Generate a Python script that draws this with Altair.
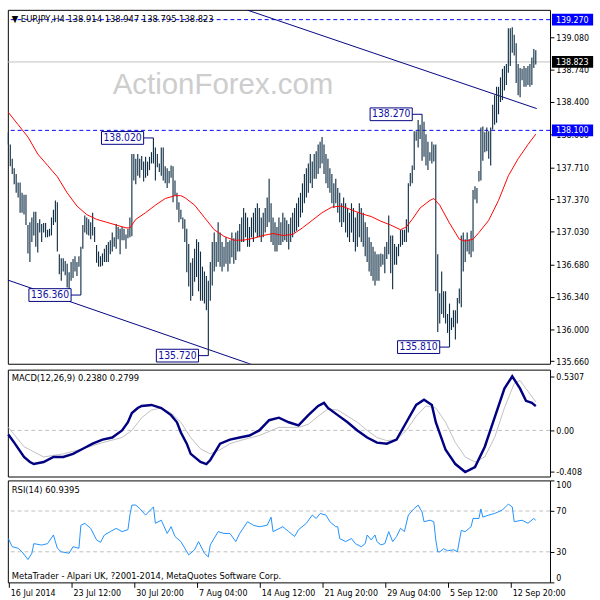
import altair as alt
import pandas as pd

FONT = "DejaVu Sans Condensed, DejaVu Sans, sans-serif"

TITLE = "\u25bc EURJPY,H4  138.914 138.947 138.795 138.823"
MACD_TITLE = "MACD(12,26,9) 0.2380 0.2799"
RSI_TITLE = "RSI(14) 60.9395"
FOOTER = "MetaTrader - Alpari UK, ?2001-2014, MetaQuotes Software Corp."
WATERMARK = "ActionForex.com"

# ---- H4 bars (high / low), one per 4-hour bar ----
HIGH = [
    138.08, 137.95, 137.80, 137.70, 137.64, 137.55, 137.55, 137.44, 137.42, 137.42,
    137.10, 137.13, 137.18, 137.24, 137.24, 137.12, 137.16, 137.11, 137.12, 137.12,
    137.05, 137.06, 137.18, 137.26, 137.36, 137.34, 136.79, 136.75, 136.75, 136.72,
    136.69, 136.60, 136.71, 136.74, 136.77, 136.71, 136.77, 136.87, 137.10, 137.20,
    137.18, 137.16, 137.13, 137.23, 137.08, 136.89, 136.82, 136.77, 136.80, 136.85,
    136.89, 136.92, 136.94, 137.02, 136.97, 137.11, 137.08, 137.06, 137.08, 137.06,
    137.00, 137.06, 137.18, 137.85, 137.85, 137.80, 137.85, 137.80, 137.83, 137.77,
    137.82, 137.77, 137.82, 137.87, 138.02, 137.92, 137.85, 137.75, 137.92, 137.92,
    137.72, 137.70, 137.67, 137.73, 137.72, 137.57, 137.44, 137.34, 137.26, 137.18,
    137.16, 137.06, 136.90, 136.70, 136.75, 136.85, 136.95, 136.92, 136.82, 136.66,
    136.61, 136.56, 136.51, 136.71, 136.92, 137.02, 136.92, 137.13, 137.02, 136.92,
    136.87, 136.97, 136.92, 136.94, 137.02, 136.96, 137.02, 137.04, 137.11, 137.18,
    137.28, 137.23, 137.18, 137.08, 137.18, 137.23, 137.28, 137.33, 137.28, 137.18,
    137.23, 137.28, 137.39, 137.59, 137.33, 137.18, 137.13, 137.08, 137.18, 137.13,
    137.23, 137.18, 137.15, 137.11, 137.18, 137.23, 137.28, 137.33, 137.39, 137.44,
    137.54, 137.64, 137.70, 137.75, 137.85, 137.77, 137.85, 137.88, 137.95, 137.98,
    138.03, 137.95, 137.85, 137.80, 137.70, 137.64, 137.54, 137.59, 137.49, 137.44,
    137.33, 137.39, 137.33, 137.28, 137.23, 137.33, 137.28, 137.18, 137.23, 137.33,
    137.28, 137.23, 137.13, 137.08, 136.97, 136.92, 136.87, 136.82, 136.79, 136.79,
    136.80, 136.79, 136.87, 136.92, 137.20, 136.99, 136.99, 136.90, 136.87, 136.90,
    137.05, 137.05, 137.05, 137.16, 137.54, 137.65, 137.73, 138.09, 138.09, 138.21,
    138.16, 138.27, 138.19, 138.06, 137.98, 137.87, 137.98, 137.95, 137.95, 136.79,
    136.38, 136.61, 136.40, 136.40, 136.16, 136.27, 136.12, 136.20, 136.20, 136.33,
    136.43, 136.99, 137.02, 136.95, 137.02, 136.95, 137.04, 137.47, 137.51, 137.49,
    137.67, 138.13, 138.14, 138.08, 138.13, 138.09, 138.13, 138.37, 138.47, 138.56,
    138.56, 138.66, 138.75, 138.78, 138.80, 139.18, 139.18, 139.19, 139.11, 139.02,
    138.80, 138.76, 138.75, 138.78, 138.76, 138.78, 138.80, 138.87, 138.96, 138.947,
]
LOW = [
    137.95, 137.72, 137.64, 137.53, 137.44, 137.39, 137.23, 137.23, 137.21, 137.10,
    136.80, 136.71, 136.92, 136.99, 136.87, 136.81, 137.02, 136.92, 137.02, 136.97,
    136.97, 136.98, 136.99, 137.10, 137.13, 136.82, 136.58, 136.51, 136.61, 136.57,
    136.44, 136.40, 136.51, 136.54, 136.61, 136.56, 136.66, 136.36, 136.85, 137.02,
    137.00, 136.99, 136.95, 136.99, 136.92, 136.70, 136.66, 136.66, 136.67, 136.71,
    136.71, 136.71, 136.79, 136.82, 136.87, 136.85, 136.95, 136.79, 136.94, 136.94,
    136.85, 136.96, 136.97, 136.98, 137.57, 137.53, 137.62, 137.60, 137.68, 137.56,
    137.60, 137.62, 137.68, 137.75, 137.75, 137.57, 137.71, 137.66, 137.62, 137.57,
    137.54, 137.49, 137.54, 137.60, 137.34, 137.41, 137.26, 137.13, 137.16, 137.06,
    136.92, 136.60, 136.45, 136.30, 136.35, 136.50, 136.55, 136.40, 136.30, 136.30,
    136.27, 136.20, 135.72, 136.30, 136.46, 136.61, 136.66, 136.71, 136.66, 136.61,
    136.66, 136.69, 136.61, 136.69, 136.76, 136.69, 136.73, 136.82, 136.82, 136.92,
    136.92, 136.97, 136.87, 136.87, 136.97, 136.92, 137.02, 136.97, 136.97, 136.92,
    136.97, 137.02, 137.08, 137.13, 136.92, 136.89, 136.82, 136.82, 136.89, 136.89,
    136.92, 136.94, 136.92, 136.84, 136.92, 136.97, 137.02, 137.04, 137.08, 137.18,
    137.23, 137.33, 137.39, 137.44, 137.54, 137.49, 137.59, 137.59, 137.64, 137.70,
    137.75, 137.64, 137.54, 137.49, 137.44, 137.33, 137.28, 137.33, 137.23, 137.13,
    137.08, 137.13, 137.02, 136.97, 136.92, 137.02, 136.92, 136.82, 136.87, 136.97,
    136.92, 136.87, 136.77, 136.71, 136.61, 136.56, 136.51, 136.46, 136.51, 136.51,
    136.66, 136.68, 136.59, 136.74, 136.79, 136.59, 136.42, 136.68, 136.68, 136.77,
    136.87, 136.89, 136.92, 136.92, 137.02, 137.51, 137.54, 137.68, 137.99, 137.92,
    138.01, 137.78, 137.82, 137.73, 137.68, 137.78, 137.75, 137.77, 136.40, 135.97,
    136.06, 136.16, 136.12, 136.06, 135.96, 135.81, 135.99, 136.02, 135.89, 136.06,
    136.27, 136.23, 136.61, 136.71, 136.82, 136.79, 136.76, 136.82, 137.37, 137.33,
    137.56, 137.57, 137.78, 137.87, 137.88, 137.80, 137.73, 138.11, 138.16, 138.18,
    138.27, 138.40, 138.42, 138.52, 138.58, 138.71, 138.78, 138.92, 138.89, 138.60,
    138.47, 138.45, 138.63, 138.56, 138.56, 138.58, 138.56, 138.58, 138.76, 138.795,
]

# ---- red moving average ----
MA_K = [0, 5, 10, 15, 20, 25, 30, 35, 40, 45, 50, 55, 60, 62, 65, 70, 75, 80, 85, 88,
        90, 95, 100, 105, 110, 115, 120, 125, 130, 135, 140, 145, 150, 155, 160, 165, 170, 175, 180, 185,
        190, 195, 200, 203, 206, 210, 215, 217, 220, 225, 230, 233, 237, 240, 245, 250, 255, 260, 265, 269]
MA_V = [138.29, 138.16, 138.03, 137.85, 137.73, 137.61, 137.44, 137.30, 137.21, 137.16,
        137.13, 137.10, 137.07, 137.07, 137.16, 137.23, 137.31, 137.38, 137.41, 137.41,
        137.39, 137.31, 137.18, 137.05, 136.98, 136.94, 136.94, 136.96, 136.99, 137.01,
        136.99, 137.00, 137.07, 137.15, 137.23, 137.29, 137.30, 137.26, 137.22, 137.19,
        137.14, 137.10, 137.05, 137.08, 137.16, 137.28, 137.36, 137.38, 137.31, 137.12,
        136.95, 136.93, 136.95, 137.02, 137.15, 137.36, 137.62, 137.80, 137.95, 138.06]

# ---- MACD main / signal ----
MACD_K = [0, 3, 8, 11, 13, 18, 23, 28, 33, 38, 43, 48, 53, 58, 61, 63, 66, 68, 73, 78,
          83, 86, 88, 91, 93, 98, 101, 103, 108, 113, 118, 123, 128, 133, 138, 143, 148, 153, 158, 161,
          163, 168, 173, 178, 183, 188, 193, 198, 203, 208, 212, 216, 218, 223, 228, 233, 238, 243, 248, 253,
          257, 261, 264, 267, 269]
MACD_V = [-0.04, -0.12, -0.26, -0.31, -0.33, -0.31, -0.26, -0.26, -0.23, -0.18,
          -0.13, -0.09, -0.07, 0.00, 0.08, 0.17, 0.22, 0.24, 0.25, 0.22,
          0.15, 0.08, -0.02, -0.13, -0.23, -0.31, -0.33, -0.29, -0.13, -0.09,
          -0.07, -0.05, 0.00, 0.10, 0.125, 0.08, 0.05, 0.15, 0.24, 0.27,
          0.22, 0.15, 0.08, 0.00, -0.07, -0.12, -0.13, -0.09, 0.08, 0.25,
          0.30, 0.25, 0.08, -0.19, -0.33, -0.408, -0.36, -0.16, 0.125, 0.41,
          0.5307, 0.41, 0.29, 0.27, 0.238]
SIG_K = [0, 8, 18, 28, 38, 48, 58, 63, 68, 73, 78, 83, 88, 93, 98, 103, 108, 113, 118, 128,
         138, 148, 153, 158, 163, 168, 173, 178, 183, 188, 193, 198, 203, 208, 213, 218, 223, 228, 233, 238,
         243, 248, 253, 258, 261, 264, 269]
SIG_V = [0.03, -0.16, -0.26, -0.23, -0.18, -0.12, -0.07, 0.00, 0.125, 0.20,
         0.22, 0.17, 0.08, -0.07, -0.18, -0.23, -0.19, -0.13, -0.10, -0.05,
         0.03, 0.03, 0.06, 0.14, 0.21, 0.20, 0.14, 0.08, 0.00, -0.07,
         -0.10, -0.09, 0.00, 0.14, 0.24, 0.22, 0.08, -0.12, -0.26, -0.31,
         -0.26, -0.07, 0.22, 0.46, 0.49, 0.41, 0.2799]

# ---- RSI(14) ----
RSI_K = [0, 2, 5, 7, 10, 12, 13, 17, 20, 23, 25, 27, 31, 33, 36, 37, 39, 42, 45, 47,
         49, 52, 55, 58, 61, 62, 63, 65, 67, 70, 74, 75, 78, 81, 83, 85, 88, 92, 95, 97,
         100, 102, 103, 107, 110, 113, 116, 118, 122, 125, 128, 132, 134, 135, 140, 143, 146, 148, 152, 155,
         157, 159, 162, 164, 167, 168, 169, 172, 175, 177, 180, 182, 183, 185, 187, 188, 190, 192, 194, 196,
         198, 200, 202, 204, 207, 209, 211, 212, 215, 217, 218, 219, 220, 222, 224, 227, 229, 231, 233, 236,
         237, 240, 241, 242, 245, 248, 252, 255, 257, 258, 262, 265, 268, 269]
RSI_V = [43, 35, 33.5, 30, 22.4, 28.6, 38, 36.6, 38, 46.5,
         33.5, 30, 28.6, 35, 33.5, 56, 57.9, 53, 41.7, 39.3,
         46.5, 49.8, 53, 49.8, 51.7, 66, 75.8, 75.8, 72.5, 66,
         74, 58, 61, 48, 54.6, 45, 40, 27, 32, 40,
         28.6, 25, 36.8, 49.8, 48, 48, 40, 48, 59.5, 56,
         54.6, 56, 64, 49.8, 54.6, 49.8, 45, 51.7, 58, 66,
         62.7, 67.6, 66, 59.5, 54.6, 54.6, 43, 40, 43, 38,
         35, 38, 46.5, 41.7, 46.5, 40, 36.8, 38, 49.8, 40,
         45, 53, 49.8, 66, 72.5, 75.8, 69, 59.5, 61, 59.5,
         41.7, 30, 30, 33, 31, 32, 30, 51, 49.8, 54.6,
         62.7, 62.7, 72, 64, 66, 67.6, 71, 76.8, 74, 59.5,
         61, 58, 62.7, 60.9395]

# ---- chart objects ----
LEVELS = [139.270, 138.100]          # blue dashed levels
CURRENT = 138.823                      # last price
TREND_LINE = ["upper", "upper", "lower", "lower"]
TREND_K = [122, 269.5, -0.5, 125]
TREND_P = [139.37, 138.33, 136.52, 135.62]
ANN_K = [74, 37, 102, 211, 225]
ANN_P = [138.020, 136.360, 135.720, 138.270, 135.810]

PRICE_TICKS = [139.08, 138.74, 138.40, 138.06, 137.71, 137.37, 137.03, 136.68, 136.34, 136.00, 135.66]
MACD_TICKS = [0.5307, 0.0, -0.408]
MACD_TICK_LABELS = ["0.5307", "0.00", "-0.408"]
RSI_TICKS = [0, 30, 70, 100]
RSI_LEVELS = [30, 70]
X_TICKS = [0, 32, 64, 96, 128, 160, 192, 224, 256]
X_LABELS = ["16 Jul 2014", "23 Jul 12:00", "30 Jul 20:00", "7 Aug 04:00", "14 Aug 12:00",
            "21 Aug 20:00", "29 Aug 04:00", "5 Sep 12:00", "12 Sep 20:00"]

BAR_COLOR = "#102f45"
NAVY = "#000080"

# ---- tables ----
bars = pd.DataFrame({"k": list(range(len(HIGH))), "high": HIGH, "low": LOW})
ma = pd.DataFrame({"k": MA_K, "v": MA_V})
macd = pd.DataFrame({"k": MACD_K, "v": MACD_V})
sig = pd.DataFrame({"k": SIG_K, "v": SIG_V})
rsi = pd.DataFrame({"k": RSI_K, "v": RSI_V})
trend = pd.DataFrame({"line": TREND_LINE, "k": TREND_K, "p": TREND_P})
ann = pd.DataFrame({"k": ANN_K, "p": ANN_P, "lab": [f"{p:.3f}" for p in ANN_P]})
levels = pd.DataFrame({"p": LEVELS})
cur = pd.DataFrame({"p": [CURRENT]})
rbox = pd.DataFrame({
    "p": LEVELS + [CURRENT],
    "lab": [f"{p:.3f}" for p in LEVELS + [CURRENT]],
    "c": ["#0000ff", "#0000ff", "#000000"],
})

W = 553
XS = alt.Scale(domain=[-0.25, 276.25], nice=False, zero=False)


def px(field="k"):
    return alt.X(f"{field}:Q", scale=XS, axis=None, title=None)


def axis_right(**kw):
    return alt.Axis(orient="right", title=None, grid=False, domain=False, tickSize=4,
                    labelPadding=2, tickColor="black", labelColor="black", labelFont=FONT,
                    labelFontSize=9, labelOverlap=False, **kw)


# ================= price panel =================
PS = alt.Scale(domain=[135.634, 139.3735], nice=False, zero=False)
PAX = axis_right(values=PRICE_TICKS, format=".3f", labelFlush=False)


def py(field):
    return alt.Y(f"{field}:Q", scale=PS, axis=PAX, title=None)


def text_layer(txt, x, y, size=9, color="black", font=FONT):
    return alt.Chart(pd.DataFrame({"t": [txt]})).mark_text(
        align="left", baseline="middle", font=font, fontSize=size, color=color
    ).encode(text="t:N", x=alt.value(x), y=alt.value(y))


wm = text_layer(WATERMARK, 107, 77, size=30, color="#cdcdcd", font="Liberation Sans")
cur_line = alt.Chart(cur).mark_rule(color="#c0c0c0", strokeWidth=1).encode(y=py("p"))
lvl = alt.Chart(levels).mark_rule(color="#0000ff", strokeDash=[4, 3], strokeWidth=1).encode(y=py("p"))
tl = alt.Chart(trend).mark_line(color=NAVY, strokeWidth=1, clip=True).encode(
    x=px(), y=py("p"), detail="line:N")
bar_l = alt.Chart(bars).mark_rule(color=BAR_COLOR, strokeWidth=1.15).encode(
    x=px(), y=py("low"), y2="high:Q")
ma_l = alt.Chart(ma).mark_line(color="#ff0000", strokeWidth=1).encode(x=px(), y=py("v"))
ann_rect = alt.Chart(ann).mark_rect(
    fill="white", stroke=NAVY, strokeWidth=1, xOffset=-53, x2Offset=-10, yOffset=-6.5, y2Offset=6.5
).encode(x=px(), x2="k:Q", y=py("p"), y2="p:Q")
ann_conn = alt.Chart(ann).mark_rule(color=NAVY, strokeWidth=1, xOffset=-10).encode(
    x=px(), x2="k:Q", y=py("p"))
ann_txt = alt.Chart(ann).mark_text(
    color="#1010a0", font=FONT, fontSize=10.5, dx=-31.5, align="center", baseline="middle"
).encode(x=px(), y=py("p"), text="lab:N")
rb = alt.Chart(rbox).mark_rule(strokeWidth=12, clip=False).encode(
    y=py("p"), x=alt.value(555), x2=alt.value(597), color=alt.Color("c:N", scale=None))
rb_txt = alt.Chart(rbox).mark_text(
    color="white", align="left", baseline="middle", font=FONT, fontSize=9
).encode(y=py("p"), x=alt.value(559), text="lab:N")
title_l = text_layer(TITLE, 4, 9, size=9.5)

price = alt.layer(wm, cur_line, lvl, tl, bar_l, ma_l, ann_conn, ann_rect, ann_txt, rb, rb_txt,
                  title_l).properties(width=W, height=361)

# ================= MACD panel =================
MS = alt.Scale(domain=[-0.452, 0.596], nice=False, zero=False)
macd_expr = ("[" + ",".join(f"'{s}'" for s in MACD_TICK_LABELS) + "][indexof(["
             + ",".join(str(v) for v in MACD_TICKS) + "], datum.value)]")
MAX = axis_right(values=MACD_TICKS, labelExpr=macd_expr, labelFlush=False)


def my(field):
    return alt.Y(f"{field}:Q", scale=MS, axis=MAX, title=None)


zero = alt.Chart(pd.DataFrame({"p": [0.0]})).mark_rule(
    color="#c0c0c0", strokeDash=[4, 3]).encode(y=my("p"))
macd_l = alt.Chart(macd).mark_line(color=NAVY, strokeWidth=2.5).encode(x=px(), y=my("v"))
sig_l = alt.Chart(sig).mark_line(color="#c0c0c0", strokeWidth=1).encode(x=px(), y=my("v"))
macd_panel = alt.layer(zero, sig_l, macd_l, text_layer(MACD_TITLE, 4, 9, size=9.5)).properties(
    width=W, height=109)

# ================= RSI panel =================
RS = alt.Scale(domain=[0, 100], nice=False, zero=False)
RAX = axis_right(values=RSI_TICKS, labelFlush=True)


def ry(field):
    return alt.Y(f"{field}:Q", scale=RS, axis=RAX, title=None)


x_expr = "[" + ",".join(f"'{s}'" for s in X_LABELS) + "][round(datum.value / 32)]"
XAX = alt.Axis(values=X_TICKS, labelExpr=x_expr, labelAlign="left", labelBaseline="top",
               labelPadding=1, labelOffset=2, tickSize=5, domain=False, grid=False,
               tickColor="black", labelColor="black", labelFont=FONT, labelFontSize=9,
               labelFlush=False, labelOverlap=False, title=None)
rsi_lv = alt.Chart(pd.DataFrame({"p": RSI_LEVELS})).mark_rule(
    color="#c0c0c0", strokeDash=[4, 3]).encode(y=ry("p"))
rsi_l = alt.Chart(rsi).mark_line(color="#1e90ff", strokeWidth=1).encode(
    x=alt.X("k:Q", scale=XS, axis=XAX, title=None), y=ry("v"))
rsi_panel = alt.layer(rsi_lv, rsi_l, text_layer(RSI_TITLE, 4, 10, size=9.5),
                      text_layer(FOOTER, 4, 98, size=9.5)).properties(width=W, height=104)

chart = alt.vconcat(price, macd_panel, rsi_panel, spacing=2).properties(
    padding={"left": 3, "top": 3, "right": 0, "bottom": 0},
    background="white",
).configure_view(stroke="black", strokeWidth=1)

chart.save("out.html", embed_options={"renderer": "svg", "actions": False})
